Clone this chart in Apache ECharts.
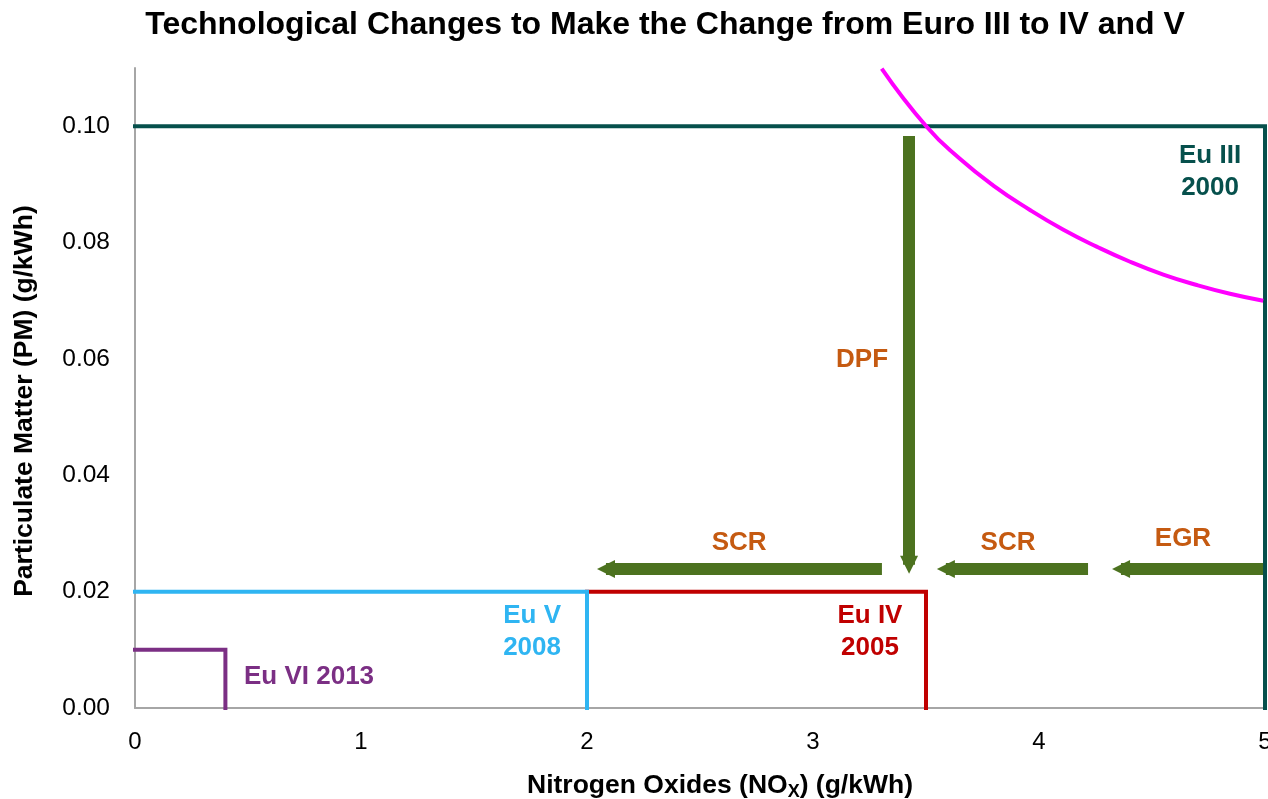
<!DOCTYPE html>
<html>
<head>
<meta charset="utf-8">
<script src="https://cdn.jsdelivr.net/npm/echarts@6/dist/echarts.min.js"></script>
<style>
  html, body { margin: 0; padding: 0; background: #fff; }
  #chart { width: 1268px; height: 799px; }
</style>
</head>
<body>
<div id="chart"></div>
<script>
// Emission limit boxes: [NOx, PM] corner paths
const euIII = [[0, 0.10], [5, 0.10], [5, 0]];
const euIV = [[2, 0.02], [3.5, 0.02], [3.5, 0]];
const euV = [[0, 0.02], [2, 0.02], [2, 0]];
const euVI = [[0, 0.01], [0.4, 0.01], [0.4, 0]];

// trade-off curve
const tradeOff = [
  [3.304, 0.1099], [3.503, 0.0999], [3.650, 0.0944], [3.798, 0.0898],
  [3.960, 0.0856], [4.108, 0.0822], [4.255, 0.0793], [4.403, 0.0767],
  [4.550, 0.0745], [4.698, 0.0727], [4.845, 0.0712], [4.992, 0.0700]
];

// technology arrows: [from, to]
const arrows = [
  [[3.305, 0.0239], [2.084, 0.0239]],
  [[3.425, 0.0983], [3.425, 0.0246]],
  [[4.217, 0.0239], [3.588, 0.0239]],
  [[5.0, 0.0239], [4.363, 0.0239]]
];

// annotations: [x, y, text, colour]
const limitLabels = [
  [4.757, 0.0921, 'Eu III\n2000', '#06504C'],
  [3.252, 0.0131, 'Eu IV\n2005', '#C00000'],
  [1.757, 0.0131, 'Eu V\n2008', '#2FB5F2'],
  [0.770, 0.0053, 'Eu VI 2013', '#7B2F84']
];
const techLabels = [
  [3.217, 0.0598, 'DPF'],
  [2.673, 0.0284, 'SCR'],
  [3.863, 0.0284, 'SCR'],
  [4.637, 0.0291, 'EGR']
];

const font = '"Liberation Sans", Arial, sans-serif';

function boxSeries(data, color) {
  return {
    type: 'line', data: data, symbol: 'none', silent: true,
    lineStyle: { color: color, width: 4, cap: 'square', join: 'miter' },
    z: 3
  };
}

const chart = echarts.init(document.getElementById('chart'));
chart.setOption({
  animation: false,
  textStyle: { fontFamily: font },
  title: {
    text: 'Technological Changes to Make the Change from Euro III to IV and V',
    left: 660, top: 4, textAlign: 'center',
    textStyle: { fontFamily: font, fontSize: 32, fontWeight: 'bold', color: '#000' }
  },
  grid: { left: 135, right: 3, top: 68, bottom: 91, containLabel: false, outerBoundsMode: 'none' },
  xAxis: {
    type: 'value', min: 0, max: 5, interval: 1,
    name: '{a|Nitrogen Oxides (NO}{s|X}{a|) (g/kWh)}',
    nameLocation: 'middle', nameGap: 63,
    nameTextStyle: {
      padding: [0, 0, 0, 40],
      rich: {
        a: { fontFamily: font, fontSize: 26.5, fontWeight: 'bold', color: '#000' },
        s: { fontFamily: font, fontSize: 18, fontWeight: 'bold', color: '#000', padding: [12, 0, 0, 0] }
      }
    },
    axisLine: { lineStyle: { color: '#A6A6A6', width: 2 } },
    axisTick: { show: false },
    splitLine: { show: false },
    axisLabel: { fontFamily: font, fontSize: 24, color: '#000', margin: 22 }
  },
  yAxis: {
    type: 'value', min: 0, max: 0.11, interval: 0.02,
    name: 'Particulate Matter (PM) (g/kWh)',
    nameLocation: 'middle', nameGap: 97,
    nameTextStyle: {
      fontFamily: font, fontSize: 26.5, fontWeight: 'bold', color: '#000',
      padding: [0, 26, 0, 0]
    },
    axisLine: { show: true, lineStyle: { color: '#A6A6A6', width: 2 } },
    axisTick: { show: false },
    splitLine: { show: false },
    axisLabel: {
      fontFamily: font, fontSize: 24.5, color: '#000', margin: 25,
      showMaxLabel: false,
      formatter: function (v) { return v.toFixed(2); }
    }
  },
  series: [
    boxSeries(euIII, '#06504C'),
    boxSeries(euIV, '#C00000'),
    boxSeries(euV, '#2FB5F2'),
    boxSeries(euVI, '#7B2F84'),
    {
      type: 'line', data: tradeOff, smooth: 0.5,
      symbol: 'none', silent: true,
      lineStyle: { color: '#FF00FF', width: 4 }, z: 4
    },
    {
      type: 'lines', coordinateSystem: 'cartesian2d', silent: true,
      data: arrows.map(function (a) { return { coords: a }; }),
      symbol: ['none', 'triangle'], symbolSize: [26, 18],
      lineStyle: { color: '#4C721F', width: 12, opacity: 1, cap: 'butt' },
      itemStyle: { color: '#4C721F' },
      z: 2
    },
    {
      type: 'scatter', symbolSize: 0, silent: true, z: 5,
      itemStyle: { opacity: 1 },
      data: limitLabels.map(function (d) {
        return {
          value: [d[0], d[1]],
          label: { color: d[3] }
        };
      }),
      label: {
        show: true, position: 'inside', opacity: 1,
        fontFamily: font, fontSize: 26, fontWeight: 'bold', lineHeight: 32,
        align: 'center', verticalAlign: 'middle',
        formatter: function (p) { return limitLabels[p.dataIndex][2]; }
      }
    },
    {
      type: 'scatter', symbolSize: 0, silent: true, z: 5,
      itemStyle: { opacity: 1 },
      data: techLabels.map(function (d) { return [d[0], d[1]]; }),
      label: {
        show: true, position: 'inside', opacity: 1,
        fontFamily: font, fontSize: 26, fontWeight: 'bold', color: '#C55A11',
        align: 'center', verticalAlign: 'middle',
        formatter: function (p) { return techLabels[p.dataIndex][2]; }
      }
    }
  ]
});
</script>
</body>
</html>
